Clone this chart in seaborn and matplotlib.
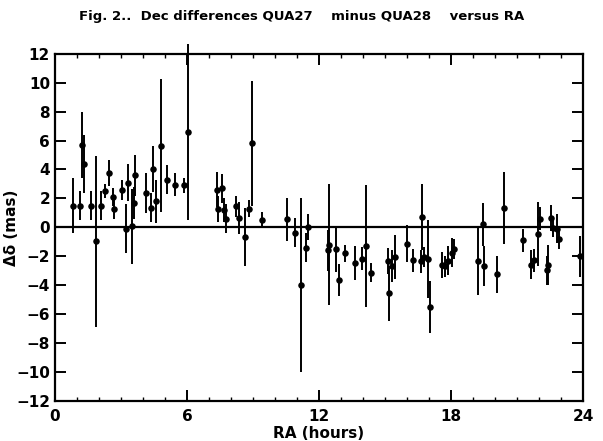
import numpy as np
import pandas as pd
import matplotlib
matplotlib.use("Agg")
import matplotlib.pyplot as plt
import seaborn as sns
from matplotlib.ticker import MultipleLocator

# Datos (RA en horas, diferencia en mas, error en mas)
ra = [0.83, 1.14, 1.21, 1.33, 1.62, 1.88, 2.08, 2.29, 2.44, 2.64, 2.67, 3.06,
      3.24, 3.33, 3.52, 3.58, 3.64, 4.14, 4.36, 4.48, 4.59, 4.82, 5.08, 5.45,
      5.86, 6.06, 7.35, 7.42, 7.58, 7.68, 7.77, 8.23, 8.36, 8.62, 8.83, 8.94,
      9.39, 10.56, 10.92, 11.18, 11.40, 11.48, 12.39, 12.45, 12.77, 12.92,
      13.18, 13.64, 13.97, 14.12, 14.36, 15.15, 15.20, 15.30, 15.44, 16.00,
      16.29, 16.62, 16.70, 16.77, 16.95, 17.05, 17.60, 17.73, 17.85, 18.03,
      18.15, 19.24, 19.45, 19.50, 20.10, 20.41, 21.28, 21.63, 21.79, 21.97,
      22.04, 22.35, 22.42, 22.53, 22.65, 22.80, 22.90, 23.86]
d_dec = [1.5, 1.5, 5.7, 4.4, 1.5, -0.97, 1.5, 2.5, 3.75, 2.1, 1.3, 2.6,
         -0.1, 3.1, 0.07, 1.7, 3.6, 2.37, 1.36, 4.05, 1.8, 5.65, 3.3, 2.94,
         2.9, 6.6, 2.6, 1.3, 2.7, 1.2, 0.6, 1.45, 0.67, -0.67, 1.3, 5.8,
         0.48, 0.55, -0.37, -4.0, -1.4, 0.0, -1.6, -1.2, -1.5, -3.65,
         -1.8, -2.46, -2.16, -1.3, -3.15, -2.35, -4.57, -2.7, -2.05, -1.13,
         -2.28, -2.35, 0.7, -2.05, -2.16, -5.5, -2.6, -2.7, -2.3, -1.75,
         -1.5, -2.3, 0.2, -2.67, -3.26, 1.36, -0.9, -2.57, -2.28, -0.44,
         0.6, -2.97, -2.6, 0.67, -0.05, -0.1, -0.8, -2.0]
err = [1.9, 1.0, 2.3, 2.0, 1.0, 5.9, 1.0, 0.5, 0.9, 0.6, 0.7, 0.7,
       1.7, 1.3, 2.6, 1.1, 1.4, 1.4, 1.0, 1.6, 1.5, 4.6, 1.0, 0.8,
       0.5, 6.1, 1.2, 0.9, 1.0, 0.8, 1.0, 0.75, 1.1, 2.0, 0.6, 4.3,
       0.55, 1.5, 1.0, 6.0, 1.0, 0.9, 1.4, 4.2, 1.6, 1.1,
       0.6, 1.2, 0.8, 4.2, 0.65, 0.9, 1.9, 1.1, 1.5, 1.3,
       0.8, 0.8, 2.3, 0.7, 2.7, 1.8, 0.9, 0.7, 1.0, 1.0,
       0.7, 2.4, 1.5, 1.4, 1.3, 2.5, 0.8, 1.0, 0.8, 2.2,
       0.8, 1.0, 1.4, 0.9, 0.6, 1.0, 0.7, 1.4]

df = pd.DataFrame({"RA": ra, "dDec": d_dec, "err": err})

sns.set_theme(style="ticks")
plt.rcParams["font.family"] = ["DejaVu Sans"]
plt.rcParams["text.color"] = "black"
plt.rcParams["axes.labelcolor"] = "black"
plt.rcParams["xtick.color"] = "black"
plt.rcParams["ytick.color"] = "black"

fig = plt.figure(figsize=(6.03, 4.41), dpi=100)
ax = fig.add_axes([0.091, 0.091, 0.876, 0.787])

# Barras de error y puntos
ax.errorbar(df["RA"], df["dDec"], yerr=df["err"], fmt="none",
            ecolor="black", elinewidth=1.4, capsize=0, clip_on=False, zorder=2)
sns.scatterplot(data=df, x="RA", y="dDec", ax=ax, color="black", s=22,
                edgecolor="black", linewidth=0, zorder=3, legend=False)
ax.axhline(0, color="black", lw=1.6, zorder=1)

ax.set_xlim(0, 24)
ax.set_ylim(-12, 12)
ax.xaxis.set_major_locator(MultipleLocator(6))
ax.xaxis.set_minor_locator(MultipleLocator(1))
ax.yaxis.set_major_locator(MultipleLocator(2))
ax.tick_params(which="major", direction="in", top=True, right=True,
               length=8, width=1.4, labelsize=11, colors="black")
ax.tick_params(which="minor", direction="in", top=True, right=False,
               left=False, length=3, width=1.0, colors="black")
ax.tick_params(axis="x", which="major", pad=6)
for s in ax.spines.values():
    s.set_linewidth(1.6)
    s.set_color("black")

ax.set_xlabel("RA (hours)", fontsize=11, labelpad=1, fontweight="bold",
              color="black")
ax.set_ylabel("\u0394\u03b4 (mas)", fontsize=11, labelpad=-2,
              fontweight="bold", color="black")
for lab in ax.get_xticklabels() + ax.get_yticklabels():
    lab.set_fontweight("bold")

fig.text(0.50, 0.962,
         "Fig. 2..  Dec differences QUA27    minus QUA28    versus RA",
         ha="center", va="center", fontsize=9.5, fontweight="bold",
         color="black")

fig.savefig("out.png", dpi=100)
